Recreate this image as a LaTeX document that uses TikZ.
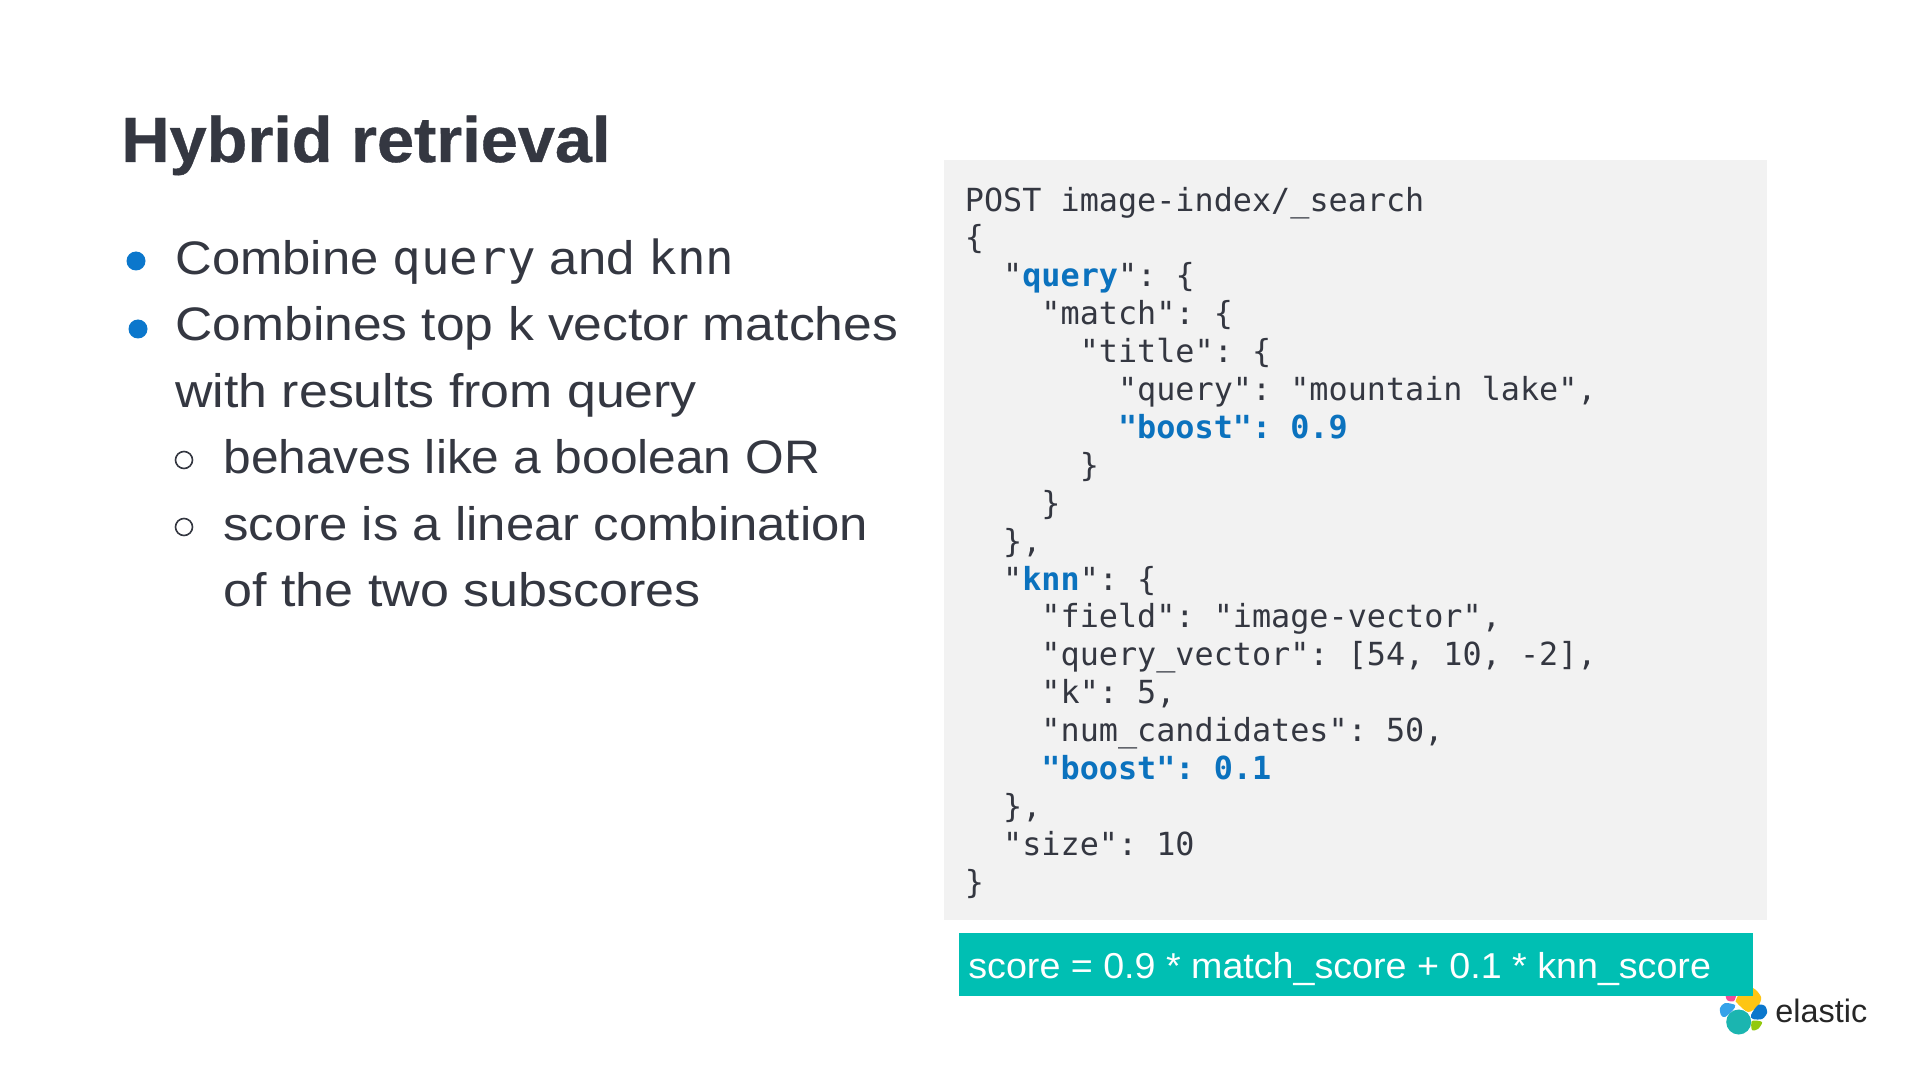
\documentclass[tikz,border=0pt]{standalone}
\usepackage{fontspec}
\usepackage{graphicx}
\usepackage{xcolor}
\setmainfont{Liberation Sans}
\newfontfamily\bodyfont[FakeStretch=1.07]{Liberation Sans}
\newfontfamily\titlefont[FakeStretch=1.042,FakeBold=.6]{Liberation Sans Bold}
\newfontfamily\codefont{DejaVu Sans Mono}
\definecolor{inkdark}{HTML}{343741}
\definecolor{bulletblue}{HTML}{0B77CC}
\definecolor{codeblue}{HTML}{0B72BE}
\definecolor{codegrey}{HTML}{F2F2F2}
\definecolor{scoreteal}{HTML}{00BFB3}
\definecolor{logoyellow}{HTML}{FEC514}
\definecolor{logopink}{HTML}{F04E98}
\definecolor{logosky}{HTML}{36A2E9}
\definecolor{logoteal}{HTML}{1BB5B0}
\definecolor{logogreen}{HTML}{93C90E}
\newcommand{\kw}[1]{\textcolor{codeblue}{\textbf{#1}}}
\newcommand{\ind}[1]{\hspace*{#1\dimexpr 9.57pt\relax}}
\newcommand{\fitline}[2]{\scalebox{#1}[1]{#2}}
\newcommand{\bodycode}[1]{{\codefont\fontsize{23.5}{28}\selectfont #1}}
\tikzset{
	textline/.style={anchor=base west,inner sep=0pt,text=inkdark,font=\bodyfont\fontsize{23.5}{28}\selectfont},
	mainbullet/.style={circle,fill=bulletblue,inner sep=0pt,minimum size=9.5pt},
	subbullet/.style={circle,draw=inkdark,line width=.8pt,inner sep=0pt,minimum size=8.5pt}
}
\begin{document}
\frenchspacing
\begin{tikzpicture}[x=.5pt,y=-.5pt]
	\useasboundingbox (0,0) rectangle (1920,1080);
	\fill[white] (0,0) rectangle (1920,1080);
	\node[anchor=base west,inner sep=0pt,text=inkdark,font=\titlefont\fontsize{32}{38}\selectfont] (title) at (121,162) {Hybrid retrieval};

	\node[mainbullet] (b1) at (136,261) {};
	\node[mainbullet] (b2) at (138,329) {};
	\node[subbullet] (s1) at (184,460) {};
	\node[subbullet] (s2) at (184,527) {};
	\node[textline] (l1) at (175,275) {\fitline{1.01}{Combine \bodycode{query} and \bodycode{knn}}};
	\node[textline] (l2) at (175,341) {\fitline{1.026}{Combines top k vector matches}};
	\node[textline] (l3) at (175,408) {\fitline{1.031}{with results from query}};
	\node[textline] (l4) at (223,473) {\fitline{.988}{behaves like a boolean OR}};
	\node[textline] (l5) at (223,540) {\fitline{1.0115}{score is a linear combination}};
	\node[textline] (l6) at (223,606) {\fitline{1.035}{of the two subscores}};

	\node[fill=codegrey,minimum width=411.5pt,minimum height=380pt,inner sep=0pt] (codebox) at (1355.5,540) {};
	\node[anchor=north west,inner sep=0pt,align=left,text=inkdark,font=\codefont\fontsize{15.9}{18.95}\selectfont] (code) at (964.5,186.5) {%
		POST image-index/\_search\\
		\{\\
		\ind{2}"\kw{query}": \{\\
		\ind{4}"match": \{\\
		\ind{6}"title": \{\\
		\ind{8}"query": "mountain lake",\\
		\ind{8}\kw{"boost": 0.9}\\
		\ind{6}\}\\
		\ind{4}\}\\
		\ind{2}\},\\
		\ind{2}"\kw{knn}": \{\\
		\ind{4}"field": "image-vector",\\
		\ind{4}"query\_vector": [54, 10, -2],\\
		\ind{4}"k": 5,\\
		\ind{4}"num\_candidates": 50,\\
		\ind{4}\kw{"boost": 0.1}\\
		\ind{2}\},\\
		\ind{2}"size": 10\\
		\}};

	\fill[logoyellow] plot[smooth cycle] coordinates {(1736,1000) (1741.7,990) (1753,988) (1761,997) (1758,1006) (1748,1012) (1737,1003)};
	\fill[logopink] plot[smooth cycle] coordinates {(1726,992) (1736,992) (1734,1001) (1727,1000)};
	\fill[logosky] plot[smooth cycle] coordinates {(1720,1008) (1725,1003) (1735,1005) (1733,1010) (1725,1017) (1721,1015)};
	\fill[bulletblue] plot[smooth cycle] coordinates {(1751,1015) (1758,1005) (1765,1006) (1767,1013) (1762,1019) (1753,1019)};
	\fill[logoteal] (1738.7,1022) circle (12.5);
	\fill[logogreen] plot[smooth cycle] coordinates {(1752,1021) (1762,1022) (1758,1029) (1752,1030)};
	\node[anchor=base west,inner sep=0pt,text=black!85,font=\fontsize{16.2}{20}\selectfont] (logo) at (1775,1022) {elastic};

	\node[fill=scoreteal,minimum width=396.75pt,minimum height=31.5pt,inner sep=0pt] (scorebar) at (1355.75,964.5) {};
	\node[anchor=base west,inner sep=0pt,text=white,font=\bodyfont\fontsize{18}{23}\selectfont] (score) at (968,978) {\fitline{.977}{score = 0.9 * match\_score + 0.1 * knn\_score}};
\end{tikzpicture}
\end{document}
